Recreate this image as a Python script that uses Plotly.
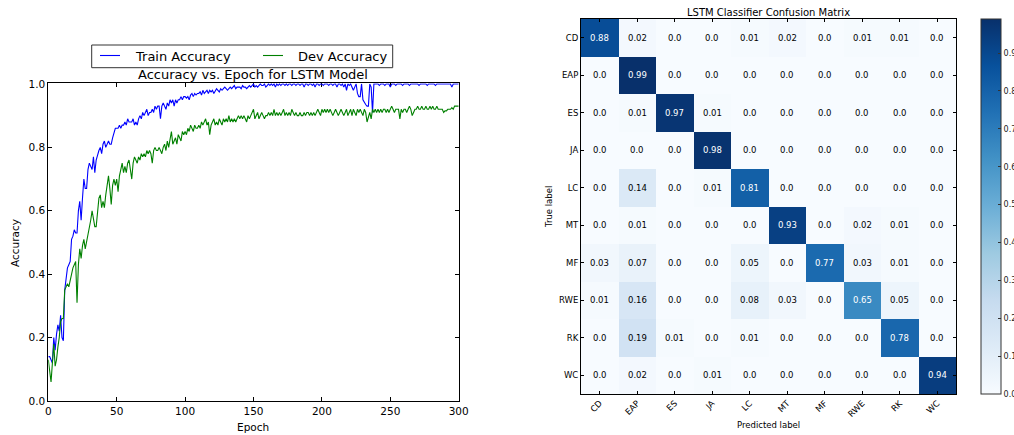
import plotly.graph_objects as go

# ---------------- data ----------------
epochs = list(range(0, 301))

train_acc = [
    0.14, 0.14, 0.13, 0.12, 0.20, 0.16, 0.21, 0.24, 0.22, 0.27,
    0.20, 0.19, 0.35, 0.38, 0.42, 0.43, 0.44, 0.51, 0.52, 0.54,
    0.53, 0.53, 0.60, 0.63, 0.57, 0.64, 0.70, 0.67, 0.67, 0.73,
    0.75, 0.74, 0.73, 0.77, 0.72, 0.76, 0.78, 0.79, 0.80, 0.78,
    0.81, 0.82, 0.80, 0.81, 0.82, 0.81, 0.81, 0.83, 0.85, 0.86,
    0.86, 0.86, 0.87, 0.86, 0.87, 0.87, 0.88, 0.87, 0.89, 0.88,
    0.88, 0.88, 0.89, 0.87, 0.88, 0.87, 0.89, 0.90, 0.89, 0.91,
    0.90, 0.91, 0.92, 0.90, 0.91, 0.91, 0.92, 0.91, 0.93, 0.92,
    0.93, 0.93, 0.89, 0.93, 0.94, 0.93, 0.92, 0.94, 0.93, 0.95,
    0.94, 0.95, 0.93, 0.95, 0.94, 0.95, 0.95, 0.96, 0.95, 0.96,
    0.96, 0.955, 0.96, 0.95, 0.965, 0.97, 0.96, 0.97, 0.965, 0.97,
    0.97, 0.975, 0.965, 0.98, 0.97, 0.975, 0.98, 0.97, 0.98, 0.975,
    0.98, 0.97, 0.98, 0.985, 0.98, 0.975, 0.985, 0.98, 0.985, 0.99,
    0.985, 0.98, 0.985, 0.99, 0.985, 0.99, 0.995, 0.985, 0.99, 0.99,
    0.99, 0.985, 0.995, 0.99, 0.99, 0.985, 0.99, 0.995, 0.99, 0.995,
    1.0, 0.99, 0.995, 0.99, 0.995, 1.0, 0.995, 0.995, 1.0, 0.99,
    0.995, 1.0, 0.995, 1.0, 0.995, 1.0, 0.99, 1.0, 0.995, 1.0,
    0.995, 1.0, 1.0, 0.995, 1.0, 0.995, 1.0, 1.0, 0.995, 1.0,
    1.0, 0.995, 1.0, 1.0, 0.995, 1.0, 1.0, 0.99, 1.0, 1.0,
    0.995, 1.0, 1.0, 0.995, 1.0, 0.99, 1.0, 1.0, 0.995, 1.0,
    1.0, 0.995, 1.0, 1.0, 1.0, 0.995, 1.0, 1.0, 0.995, 1.0,
    1.0, 0.99, 1.0, 1.0, 0.995, 1.0, 0.99, 1.0, 0.98, 1.0,
    0.995, 1.0, 0.99, 0.98, 0.99, 1.0, 0.97, 0.96, 0.96, 1.0,
    0.95, 0.94, 0.935, 0.93, 0.93, 1.0, 0.99, 0.91, 1.0, 1.0,
    1.0, 1.0, 0.995, 1.0, 1.0, 1.0, 0.995, 1.0, 1.0, 1.0,
    0.99, 1.0, 1.0, 1.0, 0.995, 1.0, 1.0, 1.0, 1.0, 0.995,
    1.0, 1.0, 1.0, 1.0, 0.995, 1.0, 1.0, 1.0, 1.0, 1.0,
    1.0, 0.995, 1.0, 1.0, 1.0, 1.0, 1.0, 0.995, 1.0, 1.0,
    1.0, 1.0, 1.0, 0.995, 1.0, 1.0, 1.0, 1.0, 1.0, 1.0,
    1.0, 1.0, 1.0, 1.0, 1.0, 0.99, 1.0, 1.0, 1.0, 1.0,
    1.0,
]

dev_acc = [
    0.13, 0.09, 0.06, 0.12, 0.18, 0.11, 0.13, 0.17, 0.20, 0.25,
    0.26, 0.26, 0.35, 0.36, 0.37, 0.36, 0.38, 0.41, 0.42, 0.43,
    0.44, 0.31, 0.43, 0.48, 0.45, 0.49, 0.51, 0.48, 0.50, 0.53,
    0.55, 0.57, 0.60, 0.57, 0.55, 0.55, 0.60, 0.64, 0.65, 0.61,
    0.63, 0.61, 0.65, 0.68, 0.71, 0.67, 0.62, 0.68, 0.70, 0.68,
    0.70, 0.66, 0.71, 0.73, 0.75, 0.72, 0.74, 0.72, 0.75, 0.76,
    0.73, 0.70, 0.75, 0.77, 0.76, 0.75, 0.77, 0.76, 0.78, 0.77,
    0.78, 0.77, 0.79, 0.78, 0.79, 0.78, 0.75, 0.79, 0.80, 0.79,
    0.79, 0.80, 0.79, 0.78, 0.80, 0.81, 0.79, 0.82, 0.80, 0.83,
    0.85, 0.81, 0.82, 0.83, 0.81, 0.84, 0.83, 0.82, 0.85, 0.84,
    0.85, 0.84, 0.86, 0.85, 0.87, 0.86, 0.85, 0.87, 0.86, 0.86,
    0.87, 0.86, 0.88, 0.87, 0.88, 0.89, 0.87, 0.88, 0.84, 0.87,
    0.88, 0.89, 0.87, 0.88, 0.87, 0.89, 0.88, 0.87, 0.89, 0.88,
    0.89, 0.88, 0.90, 0.88, 0.89, 0.88, 0.89, 0.88, 0.89, 0.90,
    0.89, 0.90, 0.89, 0.90, 0.89, 0.88, 0.90, 0.89, 0.90, 0.91,
    0.92, 0.89, 0.90, 0.91, 0.89, 0.90, 0.91, 0.90, 0.89, 0.90,
    0.90, 0.91, 0.90, 0.91, 0.90, 0.92, 0.90, 0.91, 0.90, 0.91,
    0.90, 0.91, 0.92, 0.90, 0.91, 0.90, 0.91, 0.90, 0.92, 0.91,
    0.90, 0.91, 0.90, 0.90, 0.91, 0.90, 0.90, 0.91, 0.90, 0.91,
    0.91, 0.90, 0.91, 0.90, 0.91, 0.90, 0.91, 0.92, 0.91, 0.90,
    0.92, 0.91, 0.92, 0.91, 0.92, 0.91, 0.92, 0.91, 0.90, 0.91,
    0.92, 0.91, 0.90, 0.91, 0.92, 0.91, 0.90, 0.91, 0.92, 0.90,
    0.91, 0.92, 0.90, 0.92, 0.91, 0.90, 0.92, 0.91, 0.92, 0.91,
    0.90, 0.92, 0.91, 0.88, 0.90, 0.91, 0.89, 0.92, 0.91, 0.92,
    0.91, 0.92, 0.91, 0.92, 0.91, 0.92, 0.92, 0.91, 0.92, 0.91,
    0.92, 0.93, 0.92, 0.91, 0.92, 0.92, 0.92, 0.89, 0.92, 0.91,
    0.92, 0.92, 0.91, 0.92, 0.93, 0.92, 0.90, 0.91, 0.92, 0.92,
    0.93, 0.92, 0.92, 0.93, 0.92, 0.92, 0.93, 0.92, 0.92, 0.93,
    0.92, 0.93, 0.92, 0.92, 0.93, 0.92, 0.92, 0.92, 0.92, 0.91,
    0.915, 0.915, 0.92, 0.92, 0.92, 0.925, 0.92, 0.93, 0.93, 0.93,
    0.93,
]

series_names = ["Train Accuracy", "Dev Accuracy"]
series_colors = ["#0000ff", "#008000"]

epoch_ticks = [0, 50, 100, 150, 200, 250, 300]
acc_ticks = [0.0, 0.2, 0.4, 0.6, 0.8, 1.0]

class_labels = ["CD", "EAP", "ES", "JA", "LC", "MT", "MF", "RWE", "RK", "WC"]

conf_matrix = [
    [0.88, 0.02, 0.0, 0.0, 0.01, 0.02, 0.0, 0.01, 0.01, 0.0],
    [0.0, 0.99, 0.0, 0.0, 0.0, 0.0, 0.0, 0.0, 0.0, 0.0],
    [0.0, 0.01, 0.97, 0.01, 0.0, 0.0, 0.0, 0.0, 0.0, 0.0],
    [0.0, 0.0, 0.0, 0.98, 0.0, 0.0, 0.0, 0.0, 0.0, 0.0],
    [0.0, 0.14, 0.0, 0.01, 0.81, 0.0, 0.0, 0.0, 0.0, 0.0],
    [0.0, 0.01, 0.0, 0.0, 0.0, 0.93, 0.0, 0.02, 0.01, 0.0],
    [0.03, 0.07, 0.0, 0.0, 0.05, 0.0, 0.77, 0.03, 0.01, 0.0],
    [0.01, 0.16, 0.0, 0.0, 0.08, 0.03, 0.0, 0.65, 0.05, 0.0],
    [0.0, 0.19, 0.01, 0.0, 0.01, 0.0, 0.0, 0.0, 0.78, 0.0],
    [0.0, 0.02, 0.0, 0.01, 0.0, 0.0, 0.0, 0.0, 0.0, 0.94],
]

colorbar_ticks = [0.0, 0.1, 0.2, 0.3, 0.4, 0.5, 0.6, 0.7, 0.8, 0.9]

# ---------------- layout helpers ----------------
W, H = 1014, 435
FONT = "DejaVu Sans"


def px(x):
    return x / W


def py(y):
    return 1 - y / H


blues = ["#f7fbff", "#deebf7", "#c6dbef", "#9ecae1", "#6baed6",
         "#4292c6", "#2171b5", "#08519c", "#08306b"]
blues_scale = [[i / (len(blues) - 1), c] for i, c in enumerate(blues)]

fig = go.Figure()

for name, ys, col in zip(series_names, [train_acc, dev_acc], series_colors):
    fig.add_trace(go.Scatter(
        x=epochs, y=ys, mode="lines", name=name, showlegend=False,
        line=dict(color=col, width=1.1), xaxis="x", yaxis="y",
    ))

n = len(class_labels)
zmax = max(max(r) for r in conf_matrix)
fig.add_trace(go.Heatmap(
    z=conf_matrix, x=list(range(n)), y=list(range(n)),
    xaxis="x2", yaxis="y2", colorscale=blues_scale, zmin=0, zmax=zmax,
    showscale=True, hoverinfo="skip",
    colorbar=dict(
        x=px(980.5), xanchor="left", xpad=0, thickness=19.5,
        y=py(19), yanchor="top", ypad=0, len=375 / H, lenmode="fraction",
        outlinecolor="#333333", outlinewidth=1,
        tickvals=colorbar_ticks, ticktext=[f"{v:.1f}" for v in colorbar_ticks],
        ticks="inside", ticklen=3, tickcolor="#333333",
        tickfont=dict(family=FONT, size=8, color="#222222"),
    ),
))

annotations = []
thresh = zmax / 2
for i in range(n):
    for j in range(n):
        v = conf_matrix[i][j]
        annotations.append(dict(
            x=j, y=i, xref="x2", yref="y2", text=str(v), showarrow=False,
            xanchor="center", yanchor="middle",
            font=dict(family=FONT, size=8.5,
                      color="white" if v > thresh else "black"),
        ))


def label(text, x, y, size, angle=0, xanchor="center"):
    return dict(text=text, x=px(x), y=py(y), xref="paper", yref="paper",
                showarrow=False, textangle=angle, xanchor=xanchor,
                yanchor="middle", font=dict(family=FONT, size=size,
                                            color="black"))


annotations += [
    label("Accuracy vs. Epoch for LSTM Model", 253, 74.5, 13),
    label("Epoch", 253, 427, 10.5),
    label("Accuracy", 15, 243, 10.5, angle=-90),
    label("LSTM Classifier Confusion Matrix", 768.5, 12, 10),
    label("Predicted label", 768.5, 425, 8.5),
    label("True label", 549, 207, 8.5, angle=-90),
]

# legend box (matplotlib style) for the left chart
shapes = [dict(type="rect", xref="paper", yref="paper",
               x0=px(91.7), x1=px(392.7), y0=py(67.7), y1=py(45),
               line=dict(color="#333333", width=1), fillcolor="white")]
legend_sample_x = [(100, 120), (263, 283)]
legend_text_x = [133, 296]
for name, col, (a, b), tx in zip(series_names, series_colors,
                                 legend_sample_x, legend_text_x):
    shapes.append(dict(type="line", xref="paper", yref="paper",
                       x0=px(a), x1=px(b), y0=py(55.5), y1=py(55.5),
                       line=dict(color=col, width=1.1)))
    annotations.append(label(name, tx, 56, 13, xanchor="left"))

axis_common = dict(showline=True, linecolor="black", linewidth=1,
                   mirror="ticks", ticks="inside", tickcolor="black",
                   showgrid=False, zeroline=False)

fig.update_layout(
    width=W, height=H,
    margin=dict(l=0, r=0, t=0, b=0, pad=0, autoexpand=False),
    paper_bgcolor="white", plot_bgcolor="white",
    font=dict(family=FONT, color="black"),
    showlegend=False,
    xaxis=dict(
        domain=[px(48.3), px(458.7)], range=[0, 300], anchor="y",
        tickvals=epoch_ticks, ticktext=[str(t) for t in epoch_ticks],
        ticklen=4, tickfont=dict(family=FONT, size=10.5),
        layer="below traces", **axis_common,
    ),
    yaxis=dict(
        domain=[py(401), py(83.3)], range=[0, 1.002], anchor="x",
        tickvals=acc_ticks, ticktext=[f"{t:.1f}" for t in acc_ticks],
        ticklen=4, tickfont=dict(family=FONT, size=10.5),
        layer="below traces", **axis_common,
    ),
    xaxis2=dict(
        domain=[px(581), px(956)], range=[-0.5, n - 0.5], anchor="y2",
        tickvals=list(range(n)), ticktext=class_labels, tickangle=-45,
        ticklen=3, tickfont=dict(family=FONT, size=8.5), **axis_common,
    ),
    yaxis2=dict(
        domain=[py(394), py(19)], range=[n - 0.5, -0.5], anchor="x2",
        tickvals=list(range(n)), ticktext=class_labels,
        ticklen=3, tickfont=dict(family=FONT, size=8.5), **axis_common,
    ),
    annotations=annotations,
    shapes=shapes,
)

# remove the browser's default page margin so the figure starts at (0, 0)
fig.write_html(
    "out.html",
    config={"displayModeBar": False},
    post_script="document.body.style.margin='0';"
                "document.body.style.overflow='hidden';",
)
